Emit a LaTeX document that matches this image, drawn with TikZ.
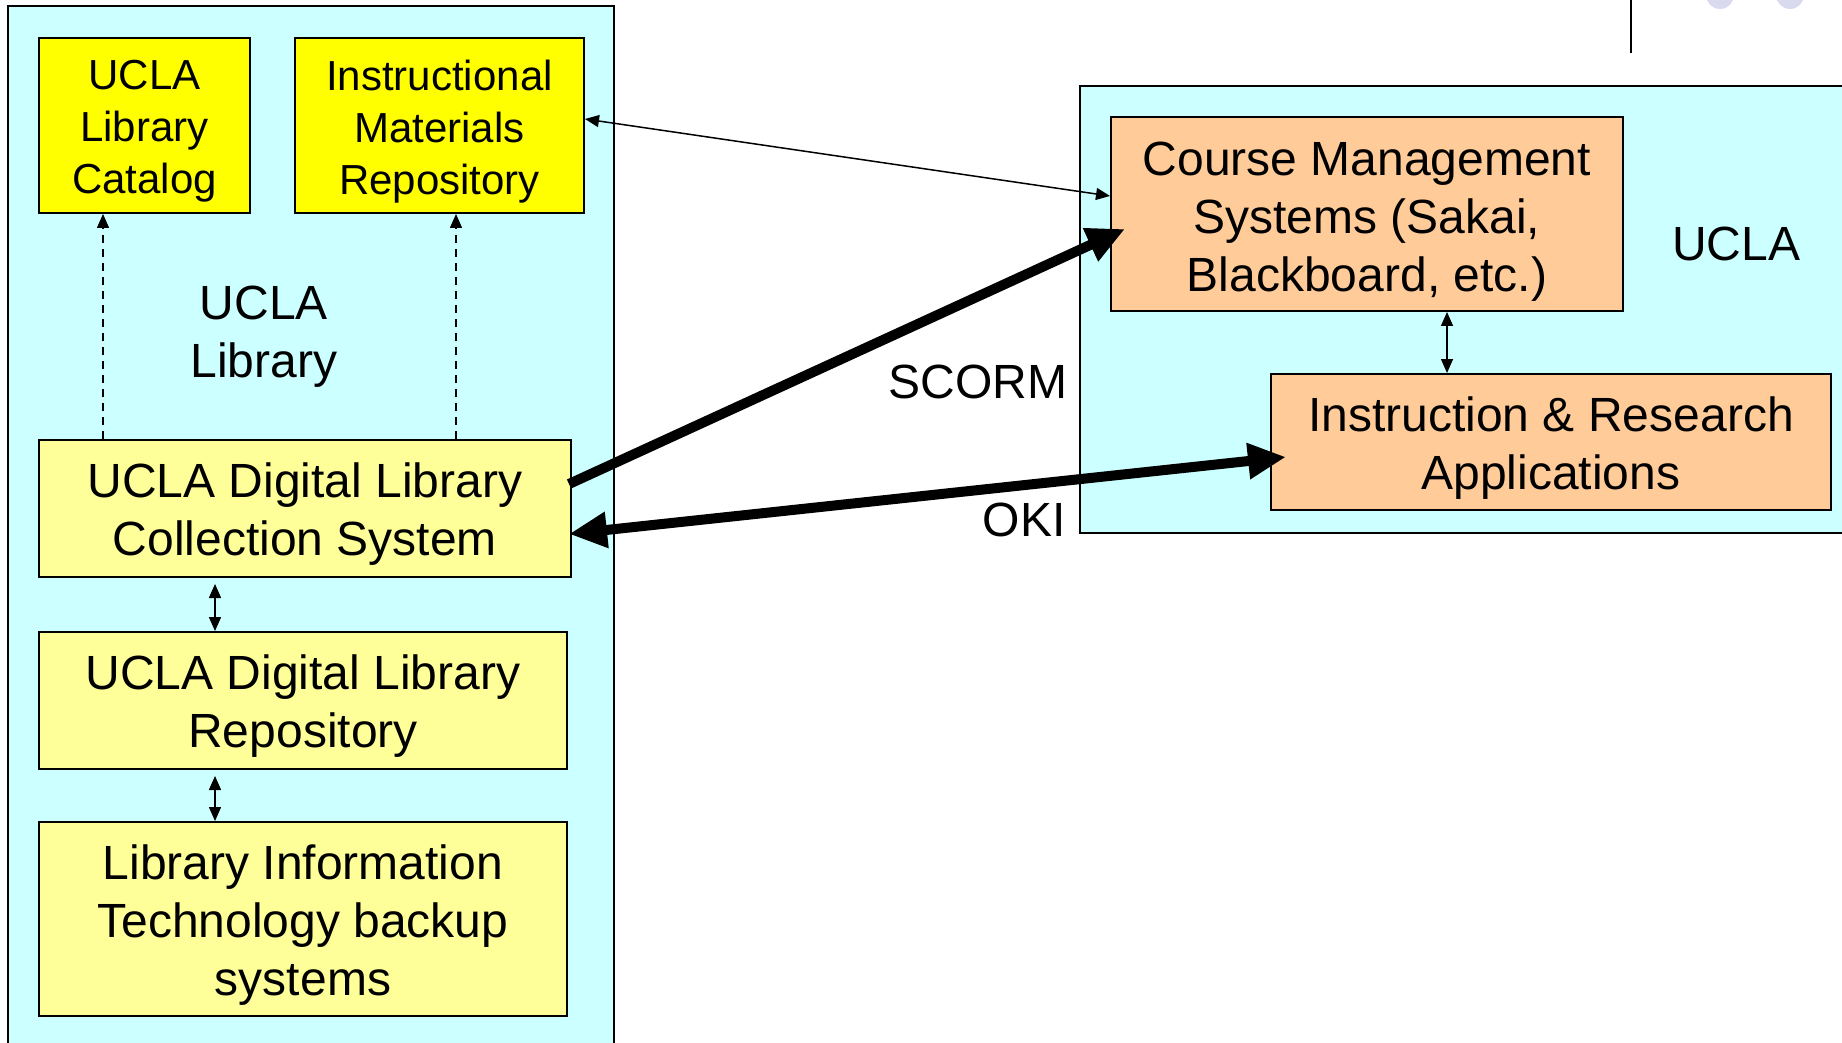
\documentclass[tikz,border=0pt]{standalone}
\usepackage{fontspec}
\setmainfont{Liberation Sans}
\usetikzlibrary{arrows.meta}
\definecolor{bgcyan}{HTML}{CCFFFF}
\definecolor{brightyellow}{HTML}{FFFF00}
\definecolor{paleyellow}{HTML}{FFFF99}
\definecolor{peach}{HTML}{FFCC99}
\definecolor{lavender}{HTML}{DADAEE}
\tikzset{
  region/.style={draw=black, fill=bgcyan, line width=1pt},
  box/.style={draw=black, line width=1pt, inner sep=0pt, align=center},
  bigtext/.style={inner sep=0pt, align=center, font=\fontsize{24}{29}\selectfont, yshift=-3pt},
  smalltext/.style={inner sep=0pt, align=center, font=\fontsize{21}{26}\selectfont, yshift=-3pt},
  freetext/.style={inner sep=0pt, align=center, font=\fontsize{24}{29}\selectfont},
  thinarrow/.style={line width=0.75pt, {Triangle[length=7pt,width=6pt]}-{Triangle[length=7pt,width=6pt]}},
  dashedarrow/.style={line width=0.75pt, dash pattern=on 4pt off 3pt, -{Triangle[length=7pt,width=6pt]}},
  thickarrow/.style={line width=5pt},
}
\begin{document}
\begin{tikzpicture}[x=0.5pt,y=-0.5pt]
\clip (0,0) rectangle (1842,1043);
\fill[white] (0,0) rectangle (1842,1043);
% decorations top right
\fill[lavender] (1720,-5) circle (14);
\fill[lavender] (1790,-5) circle (14);
\coordinate (vt) at (1631,-2);
\coordinate (vb) at (1631,53);
\draw[line width=1pt] (vt) -- (vb);
% regions
\draw[region] (8,6) rectangle (614,1070);
\draw[region] (1080,86) rectangle (1870,533);
% left boxes
\node[box, fill=brightyellow, minimum width=105.5pt, minimum height=87.5pt,
  label={[smalltext]center:{UCLA\\Library\\Catalog}}] (cat) at (144.5,125.5) {};
\node[box, fill=brightyellow, minimum width=144.5pt, minimum height=87.5pt,
  label={[smalltext]center:{Instructional\\Materials\\Repository}}] (imr) at (439.5,125.5) {};
\node[box, fill=paleyellow, minimum width=266pt, minimum height=68.5pt,
  label={[bigtext]center:{UCLA Digital Library\\Collection System}}] (dlcs) at (305,508.5) {};
\node[box, fill=paleyellow, minimum width=264pt, minimum height=68.5pt,
  label={[bigtext]center:{UCLA Digital Library\\Repository}}] (dlr) at (303,700.5) {};
\node[box, fill=paleyellow, minimum width=264pt, minimum height=97pt,
  label={[bigtext]center:{Library Information\\Technology backup\\systems}}] (lit) at (303,919) {};
\node[freetext] (libl) at (264,337) {UCLA\\Library};
% right boxes
\node[box, fill=peach, minimum width=256pt, minimum height=97pt,
  label={[bigtext, yshift=-1pt]center:{Course Management\\Systems (Sakai,\\Blackboard, etc.)}}] (cms) at (1367,214) {};
\node[box, fill=peach, minimum width=280pt, minimum height=68pt,
  label={[bigtext]center:{Instruction \& Research\\Applications}}] (ira) at (1551,442) {};
\node[freetext] (ucla) at (1736,244) {UCLA};
\node[freetext, anchor=east] (scorm) at (1068,382) {SCORM};
\node[freetext, anchor=east] (oki) at (1066,520) {OKI};
% dashed arrows
\coordinate (d1) at (103,0);
\coordinate (d2) at (456,0);
\draw[dashedarrow] (dlcs.north -| d1) -- (cat.south -| d1);
\draw[dashedarrow] (dlcs.north -| d2) -- (imr.south -| d2);
% vertical small arrows
\coordinate (v1) at (215,0);
\draw[thinarrow] ([yshift=-3pt]dlcs.south -| v1) -- (dlr.north -| v1);
\draw[thinarrow] ([yshift=-3pt]dlr.south -| v1) -- (lit.north -| v1);
\coordinate (v2) at (1447,0);
\draw[thinarrow] (cms.south -| v2) -- (ira.north -| v2);
% thin arrow imr - cms
\coordinate (t1) at (584,119);
\coordinate (t2) at (1111,196);
\draw[thinarrow] (imr.east |- t1) -- (cms.west |- t2);
% SCORM thick arrow
\coordinate (s1) at (569,484);
\coordinate (s2) at (1125,229);
\draw[thickarrow, -{Triangle[length=19pt,width=17pt]}] (s1) -- (s2);
% OKI thick arrow
\coordinate (o1) at (1286,457);
\coordinate (o2) at (569,534);
\draw[thickarrow, {Triangle[length=19pt,width=17pt]}-{Triangle[length=19pt,width=17pt]}] (o2) -- (o1);
\end{tikzpicture}
\end{document}
